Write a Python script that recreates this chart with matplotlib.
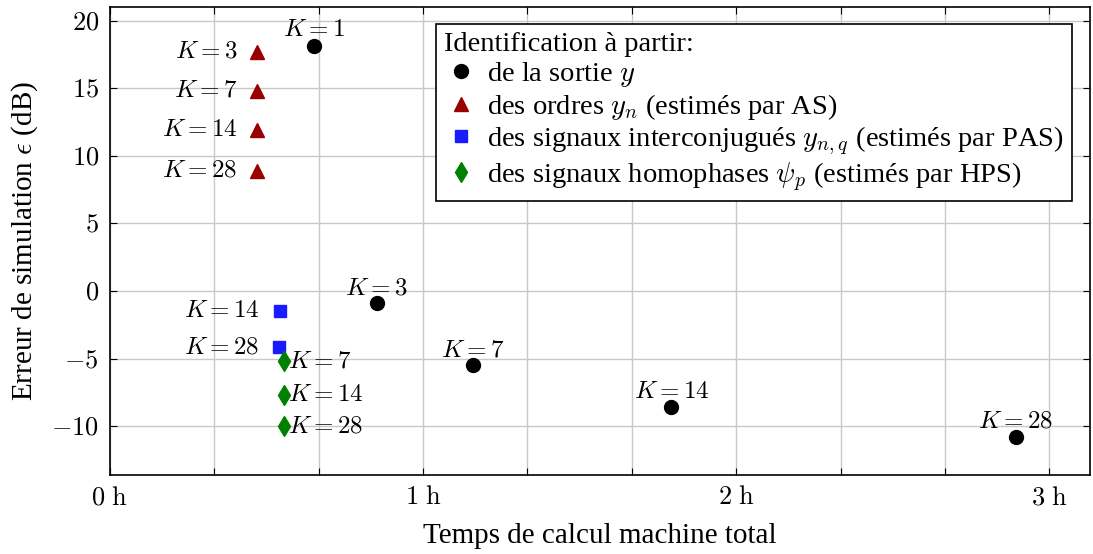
import numpy as np
import matplotlib.pyplot as plt
from matplotlib.ticker import MultipleLocator, FuncFormatter

plt.rcParams['mathtext.fontset'] = 'cm'
plt.rcParams['font.family'] = ['Liberation Serif', 'DejaVu Serif']

# Identification from output y (hours, dB)
sortie_k = [1, 3, 7, 14, 28]
sortie_t = [0.651, 0.852, 1.158, 1.793, 2.893]
sortie_e = [18.15, -0.9, -5.5, -8.6, -10.8]

# orders y_n (AS)
ordres_k = [3, 7, 14, 28]
ordres_t = [0.469, 0.469, 0.469, 0.469]
ordres_e = [17.7, 14.8, 11.9, 8.9]

# interconjugated signals (PAS)
pas_k = [14, 28]
pas_t = [0.542, 0.540]
pas_e = [-1.5, -4.15]

# homophase signals (HPS)
hps_k = [7, 14, 28]
hps_t = [0.555, 0.555, 0.555]
hps_e = [-5.2, -7.7, -10.0]

fig = plt.figure(figsize=(10.93, 5.54), dpi=100)
ax = fig.add_axes([0.1006, 0.1426, 0.8967, 0.8448])

ax.plot(sortie_t, sortie_e, 'o', color='black', ms=10, ls='none',
        label=r'de la sortie $y$')
ax.plot(ordres_t, ordres_e, '^', color='#990000', ms=10, ls='none',
        label=r'des ordres $y_n$ (estimés par AS)')
ax.plot(pas_t, pas_e, 's', color='#1a1aff', ms=9, ls='none',
        label=r'des signaux interconjugués $y_{n,q}$ (estimés par PAS)')
ax.plot(hps_t, hps_e, 'd', color='#008000', ms=10, ls='none',
        label=r'des signaux homophases $\psi_p$ (estimés par HPS)')

fs = 18
for k, t, e in zip(sortie_k, sortie_t, sortie_e):
    ax.annotate(r'$K = %d$' % k, (t, e), xytext=(0, 3), textcoords='offset points',
                ha='center', va='bottom', fontsize=fs)
for k, t, e in zip(ordres_k, ordres_t, ordres_e):
    ax.annotate(r'$K = %d$' % k, (t, e), xytext=(-14, 0), textcoords='offset points',
                ha='right', va='center', fontsize=fs)
for k, t, e in zip(pas_k, pas_t, pas_e):
    ax.annotate(r'$K = %d$' % k, (t, e), xytext=(-14, 0), textcoords='offset points',
                ha='right', va='center', fontsize=fs)
for k, t, e in zip(hps_k, hps_t, hps_e):
    ax.annotate(r'$K = %d$' % k, (t, e), xytext=(3, 0), textcoords='offset points',
                ha='left', va='center', fontsize=fs)

ax.set_xlim(0, 3.13)
ax.set_ylim(-13.6, 21)
ax.xaxis.set_major_locator(MultipleLocator(1 / 3))
ax.yaxis.set_major_locator(MultipleLocator(5))


def fmt_x(v, pos):
    if abs(v - round(v)) < 1e-6:
        return r'$%d\ \mathrm{h}$' % round(v)
    return ''


ax.xaxis.set_major_formatter(FuncFormatter(fmt_x))
ax.yaxis.set_major_formatter(FuncFormatter(lambda v, p: r'$%d$' % round(v)))
ax.tick_params(direction='in', top=True, right=True, labelsize=19, length=5,
               pad=8)
ax.grid(True, color='#c8c8c8', lw=1)
for s in ax.spines.values():
    s.set_linewidth(1.2)

ax.set_xlabel('Temps de calcul machine total', fontsize=21, labelpad=10)
ax.set_ylabel(r'Erreur de simulation $\epsilon$ (dB)', fontsize=21, labelpad=8)

leg = ax.legend(title='Identification à partir:', loc='upper right', fontsize=20.5,
                title_fontsize=20.5, frameon=True, fancybox=False, edgecolor='black',
                handletextpad=0.3, handlelength=1.2, borderpad=0.3,
                labelspacing=0.1, bbox_to_anchor=(0.996, 0.995), framealpha=1)
leg._legend_box.align = 'left'
leg.get_frame().set_linewidth(1.2)

fig.savefig('out.png', dpi=100)
